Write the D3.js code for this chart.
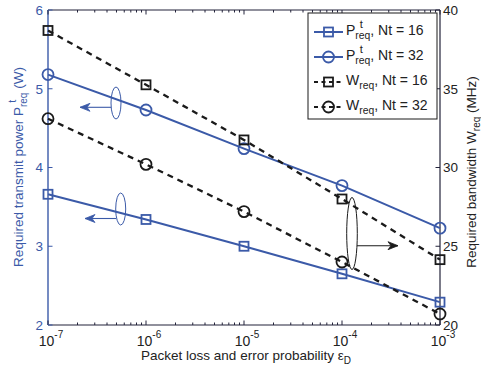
<!DOCTYPE html>
<html><head><meta charset="utf-8">
<script src="https://cdnjs.cloudflare.com/ajax/libs/d3/7.8.5/d3.min.js"></script>
<style>body{margin:0;background:#fff}svg{display:block;font-family:"Liberation Sans",Arial,sans-serif}text{white-space:pre}</style>
</head><body><svg id="c" width="481" height="369"></svg>
<script>
const epsilon = [1e-7, 1e-6, 1e-5, 1e-4, 1e-3];
const xTickVals = [1e-7, 1e-6, 1e-5, 1e-4, 1e-3];
const xTickExp = ["-7", "-6", "-5", "-4", "-3"];
const P16 = [3.66, 3.34, 3.0, 2.65, 2.29];
const P32 = [5.18, 4.73, 4.24, 3.77, 3.23];
const W16 = [38.7, 35.25, 31.75, 28.0, 24.15];
const W32 = [33.1, 30.2, 27.2, 24.0, 20.7];
const leftTicks = [2, 3, 4, 5, 6];
const rightTicks = [20, 25, 30, 35, 40];

const BLUE = "#3b5aa8", BLK = "#1a1a1a", AX = "#23233a";
const svg = d3.select("#c");
const L = 48, R = 440, T = 10, B = 325;
const x = d3.scaleLog().domain([1e-7, 1e-3]).range([L, R]);
const yL = d3.scaleLinear().domain([2, 6]).range([B, T]);
const yR = d3.scaleLinear().domain([20, 40]).range([B, T]);

const minors = [];
for (let e = -7; e < -3; e++) for (let m = 2; m <= 9; m++) minors.push(m * Math.pow(10, e));
const g = svg.append("g");
g.append("line").attr("x1", L).attr("x2", R).attr("y1", B).attr("y2", B).attr("stroke", AX).attr("stroke-width", 1.2);
g.append("line").attr("x1", L).attr("x2", R).attr("y1", T).attr("y2", T).attr("stroke", AX).attr("stroke-width", 1.2);
g.append("line").attr("x1", R).attr("x2", R).attr("y1", T).attr("y2", B).attr("stroke", AX).attr("stroke-width", 1.2);
g.append("line").attr("x1", L).attr("x2", L).attr("y1", T).attr("y2", B).attr("stroke", BLUE).attr("stroke-width", 1.4);
minors.forEach(v => {
  g.append("line").attr("x1", x(v)).attr("x2", x(v)).attr("y1", B).attr("y2", B - 2.5).attr("stroke", AX);
  g.append("line").attr("x1", x(v)).attr("x2", x(v)).attr("y1", T).attr("y2", T + 2.5).attr("stroke", AX);
});
xTickVals.forEach((v, i) => {
  g.append("line").attr("x1", x(v)).attr("x2", x(v)).attr("y1", B).attr("y2", B - 4.5).attr("stroke", AX);
  g.append("line").attr("x1", x(v)).attr("x2", x(v)).attr("y1", T).attr("y2", T + 4.5).attr("stroke", AX);
  const t = g.append("text").attr("x", x(v) + 3).attr("y", 346).attr("text-anchor", "middle").attr("fill", "#222");
  t.append("tspan").attr("font-size", 14).text("10");
  t.append("tspan").attr("font-size", 10).attr("dy", -8).text(xTickExp[i]);
});
leftTicks.forEach(v => {
  g.append("line").attr("x1", L).attr("x2", L + 4.5).attr("y1", yL(v)).attr("y2", yL(v)).attr("stroke", BLUE);
  g.append("text").attr("x", 43).attr("y", yL(v)).attr("dy", "0.36em").attr("text-anchor", "end")
    .attr("font-size", 13.5).attr("fill", BLUE).text(v);
});
rightTicks.forEach(v => {
  g.append("line").attr("x1", R).attr("x2", R - 4.5).attr("y1", yR(v)).attr("y2", yR(v)).attr("stroke", AX);
  g.append("text").attr("x", 443).attr("y", yR(v)).attr("dy", "0.36em").attr("text-anchor", "start")
    .attr("font-size", 13.5).attr("fill", "#222").text(v);
});

function rich(parent, base, sup, sub, rest, size, fill) {
  const grp = parent.append("g");
  let cx = 0;
  const t1 = grp.append("text").attr("x", 0).attr("y", 0).attr("font-size", size).attr("fill", fill).text(base);
  cx += t1.node().getComputedTextLength();
  let ws = 0;
  if (sub) {
    const ts = grp.append("text").attr("x", cx).attr("y", 4).attr("font-size", size * 0.74).attr("fill", fill).text(sub);
    ws = ts.node().getComputedTextLength();
  }
  if (sup) {
    const tp = grp.append("text").attr("x", cx + (sub ? ws * 0.3 : 0)).attr("y", -7).attr("font-size", size * 0.8).attr("fill", fill).text(sup);
    if (!sub) ws = tp.node().getComputedTextLength();
  }
  cx += ws;
  if (rest) {
    const tr = grp.append("text").attr("x", cx).attr("y", 0).attr("font-size", size).attr("fill", fill).text(rest);
    cx += tr.node().getComputedTextLength();
  }
  return {grp, width: cx};
}

{
  const a = svg.append("g");
  const r = rich(a, "Required transmit power P", "t", "req", "\u00a0(W)", 13.5, BLUE);
  a.attr("transform", `translate(23,${167 + r.width / 2}) rotate(-90)`);
}
{
  const a = svg.append("g");
  const r = rich(a, "Required bandwidth W", null, "req", "\u00a0(MHz)", 13.5, "#222");
  a.attr("transform", `translate(476,${172 + r.width / 2}) rotate(-90)`);
}
{
  const a = svg.append("g");
  const r = rich(a, "Packet loss and error probability ε", null, "D", "", 13.5, "#222");
  a.attr("transform", `translate(${246 - r.width / 2},360)`);
}

const series = [
  {vals: P16, y: yL, color: BLUE, dash: null, marker: "square"},
  {vals: P32, y: yL, color: BLUE, dash: null, marker: "circle"},
  {vals: W16, y: yR, color: BLK, dash: "6,5", marker: "square"},
  {vals: W32, y: yR, color: BLK, dash: "6,5", marker: "circle"}
];
function marker(sel, type, cx, cy, color) {
  if (type === "square") sel.append("rect").attr("x", cx - 4.5).attr("y", cy - 4.5).attr("width", 9).attr("height", 9)
    .attr("fill", "none").attr("stroke", color).attr("stroke-width", 1.8);
  else sel.append("circle").attr("cx", cx).attr("cy", cy).attr("r", 5.5).attr("fill", "none").attr("stroke", color).attr("stroke-width", 1.8);
}
series.forEach(s => {
  const line = d3.line().x((d, i) => x(epsilon[i])).y(d => s.y(d));
  svg.append("path").attr("d", line(s.vals)).attr("fill", "none").attr("stroke", s.color)
    .attr("stroke-width", s.dash ? 2.3 : 2).attr("stroke-dasharray", s.dash);
  s.vals.forEach((v, i) => marker(svg, s.marker, x(epsilon[i]), s.y(v), s.color));
});

function arrow(x1, y1, x2, color) {
  svg.append("line").attr("x1", x1).attr("x2", x2).attr("y1", y1).attr("y2", y1).attr("stroke", color).attr("stroke-width", 1.1);
  const dir = x2 < x1 ? 1 : -1;
  svg.append("path").attr("d", `M${x2},${y1} L${x2 + dir * 10},${y1 - 4} L${x2 + dir * 7},${y1} L${x2 + dir * 10},${y1 + 4} Z`)
    .attr("fill", color).attr("stroke", color).attr("stroke-width", 0.8);
}
svg.append("ellipse").attr("cx", 116).attr("cy", 103).attr("rx", 5).attr("ry", 16).attr("fill", "none").attr("stroke", BLUE).attr("stroke-width", 1);
arrow(111, 107.3, 80, BLUE);
svg.append("ellipse").attr("cx", 120.7).attr("cy", 209).attr("rx", 5).attr("ry", 16).attr("fill", "none").attr("stroke", BLUE).attr("stroke-width", 1);
arrow(116, 218.5, 85, BLUE);
svg.append("ellipse").attr("cx", 352).attr("cy", 233.5).attr("rx", 5.3).attr("ry", 36).attr("fill", "none").attr("stroke", BLK).attr("stroke-width", 1);
arrow(357, 245.7, 398, BLK);

const lg = svg.append("g");
lg.append("rect").attr("x", 308).attr("y", 13).attr("width", 129).attr("height", 106).attr("fill", "#fff").attr("stroke", BLK).attr("stroke-width", 1);
const legItems = [
  {s: series[0], base: "P", sup: "t", sub: "req", rest: ", Nt = 16"},
  {s: series[1], base: "P", sup: "t", sub: "req", rest: ", Nt = 32"},
  {s: series[2], base: "W", sup: null, sub: "req", rest: ", Nt = 16"},
  {s: series[3], base: "W", sup: null, sub: "req", rest: ", Nt = 32"}
];
legItems.forEach((it, i) => {
  const cy = 32 + i * 25;
  lg.append("line").attr("x1", 314).attr("x2", 343).attr("y1", cy).attr("y2", cy).attr("stroke", it.s.color)
    .attr("stroke-width", 2).attr("stroke-dasharray", it.s.dash ? "4,3.5" : null);
  marker(lg, it.s.marker, 328.5, cy, it.s.color);
  const r = rich(lg, it.base, it.sup, it.sub, it.rest, 14, "#222");
  r.grp.attr("transform", `translate(346,${cy + 3})`);
});
</script></body></html>
